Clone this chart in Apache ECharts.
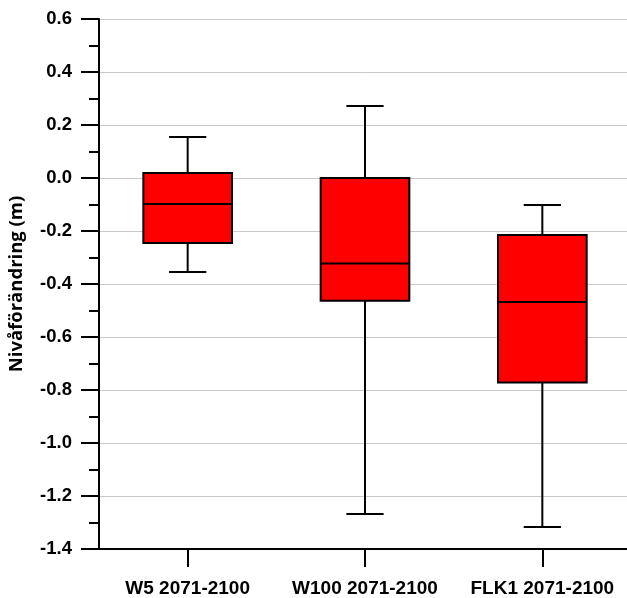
<!DOCTYPE html>
<html><head><meta charset="utf-8">
<script src="https://cdn.jsdelivr.net/npm/echarts@6/dist/echarts.min.js"></script>
<style>html,body{margin:0;padding:0;background:#fff}#c{width:627px;height:598px}</style>
</head><body><div id="c"></div>
<script>
const categories = ['W5 2071-2100', 'W100 2071-2100', 'FLK1 2071-2100'];
const whiskerLow = [-0.355, -1.268, -1.317];
const q1 = [-0.245, -0.463, -0.772];
const median = [-0.098, -0.323, -0.468];
const q3 = [0.019, 0.0, -0.215];
const whiskerHigh = [0.155, 0.272, -0.102];
const yTicks = { min: -1.4, max: 0.6, interval: 0.2 };
const yName = 'Nivåförändring (m)';

const data = categories.map((c, i) => [i, whiskerLow[i], q1[i], median[i], q3[i], whiskerHigh[i]]);

const chart = echarts.init(document.getElementById('c'), null, { renderer: 'canvas' });
const font = 'Liberation Sans, Arial, sans-serif';
chart.setOption({
  animation: false,
  backgroundColor: '#fff',
  grid: { left: 99, right: -4, top: 19, bottom: 49, outerBoundsMode: 'none', containLabel: false },
  xAxis: {
    type: 'category', data: categories, boundaryGap: true,
    axisLine: { onZero: false, lineStyle: { color: '#000', width: 2 } },
    axisTick: { show: true, interval: 0, alignWithLabel: true, length: 18, lineStyle: { color: '#000', width: 2 } },
    axisLabel: { interval: 0, hideOverlap: false, color: '#000', fontWeight: 'bold', fontSize: 19, fontFamily: font, margin: 30 },
    splitLine: { show: false }
  },
  yAxis: {
    type: 'value', min: yTicks.min, max: yTicks.max, interval: yTicks.interval,
    name: yName, nameLocation: 'middle', nameRotate: 90, nameGap: 73,
    nameTextStyle: { color: '#000', fontWeight: 'bold', fontSize: 18.5, fontFamily: 'Open Sans, sans-serif' },
    axisLine: { show: true, lineStyle: { color: '#000', width: 2 } },
    axisTick: { show: true, length: 18, lineStyle: { color: '#000', width: 2 } },
    minorTick: { show: true, splitNumber: 2, length: 10, lineStyle: { color: '#000', width: 2 } },
    axisLabel: { color: '#000', fontWeight: 'bold', fontSize: 18.5, fontFamily: font, margin: 27,
      formatter: v => v.toFixed(1) },
    splitLine: { show: true, lineStyle: { color: '#c8c8c8', width: 1 } }
  },
  series: [{
    type: 'custom',
    data: data,
    encode: { x: 0, y: [1, 2, 3, 4, 5] },
    renderItem: function (params, api) {
      const x = api.value(0);
      const band = api.size([1, 0])[0];
      const bw = band * 0.5, cw = band * 0.21;
      const pLow = api.coord([x, api.value(1)]);
      const pQ1 = api.coord([x, api.value(2)]);
      const pMed = api.coord([x, api.value(3)]);
      const pQ3 = api.coord([x, api.value(4)]);
      const pHigh = api.coord([x, api.value(5)]);
      const cx = pQ1[0];
      const ls = { stroke: '#000', lineWidth: 2 };
      return {
        type: 'group',
        children: [
          { type: 'line', shape: { x1: cx, y1: pHigh[1], x2: cx, y2: pQ3[1] }, style: ls },
          { type: 'line', shape: { x1: cx, y1: pQ1[1], x2: cx, y2: pLow[1] }, style: ls },
          { type: 'line', shape: { x1: cx - cw / 2, y1: pHigh[1], x2: cx + cw / 2, y2: pHigh[1] }, style: ls },
          { type: 'line', shape: { x1: cx - cw / 2, y1: pLow[1], x2: cx + cw / 2, y2: pLow[1] }, style: ls },
          { type: 'rect', shape: { x: cx - bw / 2, y: pQ3[1], width: bw, height: pQ1[1] - pQ3[1] },
            style: { fill: '#ff0000', stroke: '#000', lineWidth: 2 } },
          { type: 'line', shape: { x1: cx - bw / 2, y1: pMed[1], x2: cx + bw / 2, y2: pMed[1] }, style: ls }
        ]
      };
    }
  }]
});
</script></body></html>
